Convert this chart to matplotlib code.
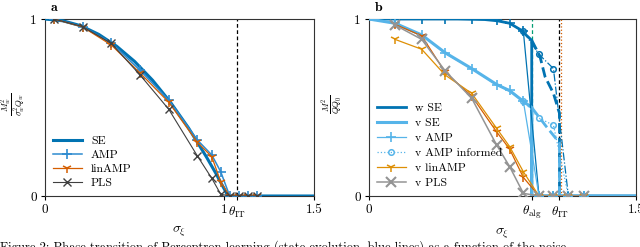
import numpy as np
import matplotlib
matplotlib.use("Agg")
import matplotlib.pyplot as plt

plt.rcParams['font.family'] = 'cmr10'
plt.rcParams['mathtext.fontset'] = 'cm'
plt.rcParams['axes.formatter.use_mathtext'] = True
plt.rcParams['font.size'] = 8.5

# ----- colours -----
c_dark = '#0173B2'
c_light = '#56B4E9'
c_orange = '#DE8F05'
c_red = '#D55E00'
c_green = '#029E73'
c_gray = '#949494'

# ----- panel a data -----
se_a_sigma = [0, 0.1, 0.2, 0.3, 0.4, 0.5, 0.6, 0.7, 0.8, 0.9, 0.95, 1.0, 1.02, 1.1, 1.5]
se_a_val = [1.0, 0.99, 0.962, 0.913, 0.846, 0.76, 0.654, 0.529, 0.385, 0.221, 0.133, 0.039, 0.0, 0.0, 0.0]

sigma_a = [0.05, 0.21, 0.37, 0.53, 0.69, 0.85, 0.93, 0.98, 1.03, 1.08, 1.13, 1.18]
amp_a = [1.0, 0.957, 0.865, 0.71, 0.542, 0.316, 0.232, 0.137, 0.0, 0.0, 0.0, 0.0]
linamp_a = [1.0, 0.955, 0.853, 0.695, 0.53, 0.303, 0.222, 0.08, 0.0, 0.0, 0.0, 0.0]
pls_a = [1.0, 0.957, 0.862, 0.684, 0.49, 0.226, 0.10, 0.01, 0.0, 0.0, 0.0, 0.0]

theta_it = 1.07
theta_alg = 0.914
theta_orange = 1.08

# ----- panel b data -----
wse_sigma = [0, 0.3, 0.5, 0.65, 0.72, 0.79, 0.85, 0.914, 0.914, 1.5]
wse_val = [1.0, 1.0, 1.0, 0.997, 0.99, 0.976, 0.94, 0.88, 0.0, 0.0]
vse_sigma = [0, 0.146, 0.296, 0.427, 0.577, 0.717, 0.79, 0.867, 0.914, 0.914, 1.5]
vse_val = [1.0, 0.976, 0.91, 0.81, 0.72, 0.63, 0.595, 0.535, 0.50, 0.0, 0.0]

wse_inf_sigma = [0.914, 0.96, 0.989, 1.036, 1.07, 1.07]
wse_inf_val = [0.88, 0.79, 0.674, 0.58, 0.467, 0.0]
vse_inf_sigma = [0.914, 0.99, 1.07, 1.07]
vse_inf_val = [0.50, 0.40, 0.30, 0.0]

sigma_b = [0.146, 0.296, 0.427, 0.577, 0.717, 0.79, 0.867, 0.955, 1.036, 1.12, 1.205]
v_amp = [0.976, 0.91, 0.806, 0.72, 0.627, 0.6, 0.535, 0.0, 0.0, 0.0, 0.0]
w_amp = [1.0, 1.0, 1.0, 1.0, 0.995, 0.976, 0.93, 0.0, 0.0, 0.0, 0.0]
v_linamp = [0.885, 0.829, 0.684, 0.58, 0.382, 0.279, 0.137, 0.0, 0.0, 0.0, 0.0]
w_linamp = [0.97, 0.905, 0.70, 0.565, 0.362, 0.265, 0.105, 0.0, 0.0, 0.0, 0.0]
v_pls = [0.966, 0.885, 0.708, 0.552, 0.288, 0.166, 0.015, 0.0, 0.0, 0.0, 0.0]

sigma_inf = [0.867, 0.955, 1.036, 1.12, 1.205]
w_amp_inf = [0.93, 0.80, 0.72, 0.0, 0.0]
v_amp_inf = [0.535, 0.44, 0.40, 0.0, 0.0]

fig = plt.figure(figsize=(6.4, 2.47), dpi=100)
ax_a = fig.add_axes([0.0703, 0.2065, 0.4203, 0.7165])
ax_b = fig.add_axes([0.5766, 0.2065, 0.4172, 0.7165])

# ----- panel a -----
ax_a.axvline(theta_it, color='k', ls='--', lw=0.9, dashes=(3, 2))
ax_a.plot(se_a_sigma, se_a_val, color=c_dark, lw=2.2, label='SE', zorder=3)
ax_a.plot(sigma_a, amp_a, color='#2E8BD0', lw=1.1, marker='+', ms=7, mew=1.2, label='AMP', zorder=4)
ax_a.plot(sigma_a, linamp_a, color=c_red, lw=0.9, marker='1', ms=7, mew=1.1, label='linAMP', zorder=4)
ax_a.plot(sigma_a, pls_a, color='#404040', lw=0.8, marker='x', ms=6, mew=1.0, label='PLS', zorder=4)
ax_a.set_xticks([0, 1, theta_it, 1.5])
ax_a.set_xticklabels(['0', '1', r'$\theta_{\rm IT}$', '1.5'])
ax_a.set_ylabel(r'$\frac{M_w^2}{\sigma_w^2 Q_w}$', fontsize=9)
ax_a.yaxis.set_label_coords(-0.062, 0.52)
ax_a.legend(loc='lower left', frameon=False, handlelength=2.4, labelspacing=0.3,
            borderaxespad=0.3, fontsize=8.5)
ax_a.text(0.02, 1.03, 'a', transform=ax_a.transAxes, fontfamily='cmb10', fontsize=10, va='bottom')

# ----- panel b -----
ax_b.axvline(theta_alg, color=c_green, ls='--', lw=0.9, dashes=(3, 2))
ax_b.axvline(theta_it, color='k', ls='--', lw=0.9, dashes=(3, 2))
ax_b.axvline(theta_orange, color=c_red, ls=':', lw=0.9)

ax_b.plot(wse_sigma, wse_val, color=c_dark, lw=2.0, label='w SE', zorder=3)
ax_b.plot(vse_sigma, vse_val, color=c_light, lw=2.2, label='v SE', zorder=3)
ax_b.plot(wse_inf_sigma, wse_inf_val, color=c_dark, lw=2.0, ls='--', zorder=3)
ax_b.plot(vse_inf_sigma, vse_inf_val, color=c_light, lw=2.0, ls='--', zorder=3)

ax_b.plot(sigma_b, w_amp, color=c_dark, lw=0.9, marker='+', ms=7, mew=1.2, zorder=4)
ax_b.plot(sigma_b, v_amp, color=c_light, lw=0.9, marker='+', ms=7, mew=1.2, label='v AMP', zorder=4)
ax_b.plot(sigma_inf, w_amp_inf, color=c_dark, lw=0.9, ls='-.', marker='o', ms=4, mfc='none', mew=1.1, zorder=4)
ax_b.plot(sigma_inf, v_amp_inf, color=c_light, lw=0.9, ls=':', marker='o', ms=4, mfc='none', mew=1.1,
          label='v AMP informed', zorder=4)
ax_b.plot(sigma_b, w_linamp, color=c_red, lw=0.9, marker='1', ms=7, mew=1.1, zorder=4)
ax_b.plot(sigma_b, v_linamp, color=c_orange, lw=0.9, marker='1', ms=7, mew=1.1, label='v linAMP', zorder=4)
ax_b.plot(sigma_b, v_pls, color=c_gray, lw=1.1, marker='x', ms=7, mew=1.5, label='v PLS', zorder=4)

ax_b.set_xticks([0, theta_alg, theta_it, 1.5])
ax_b.set_xticklabels(['0', r'$\theta_{\rm alg}$', r'$\theta_{\rm IT}$', '1.5'])
ax_b.set_ylabel(r'$\frac{M^2}{Q Q_0}$', fontsize=9)
ax_b.yaxis.set_label_coords(-0.09, 0.52)
ax_b.legend(loc='lower left', frameon=False, handlelength=2.4, labelspacing=0.4,
            borderaxespad=0.3, fontsize=8.5)
ax_b.text(0.02, 1.03, 'b', transform=ax_b.transAxes, fontfamily='cmb10', fontsize=10, va='bottom')

for ax in (ax_a, ax_b):
    ax.set_xlim(0, 1.5)
    ax.set_ylim(0, 1)
    ax.set_yticks([0, 1])
    ax.set_yticklabels(['0', '1'])
    ax.set_xlabel(r'$\sigma_\xi$', fontsize=10, labelpad=4)
    ax.tick_params(length=3, width=0.8, pad=3, labelsize=9.5)
    for s in ax.spines.values():
        s.set_linewidth(0.8)
        s.set_color('#333333')

fig.text(0.0, -0.014, 'Figure 2: Phase transition of Perceptron learning (state evolution, blue lines) as a function of the noise',
         fontsize=9, va='baseline', ha='left')

fig.savefig('out.png', dpi=100)
